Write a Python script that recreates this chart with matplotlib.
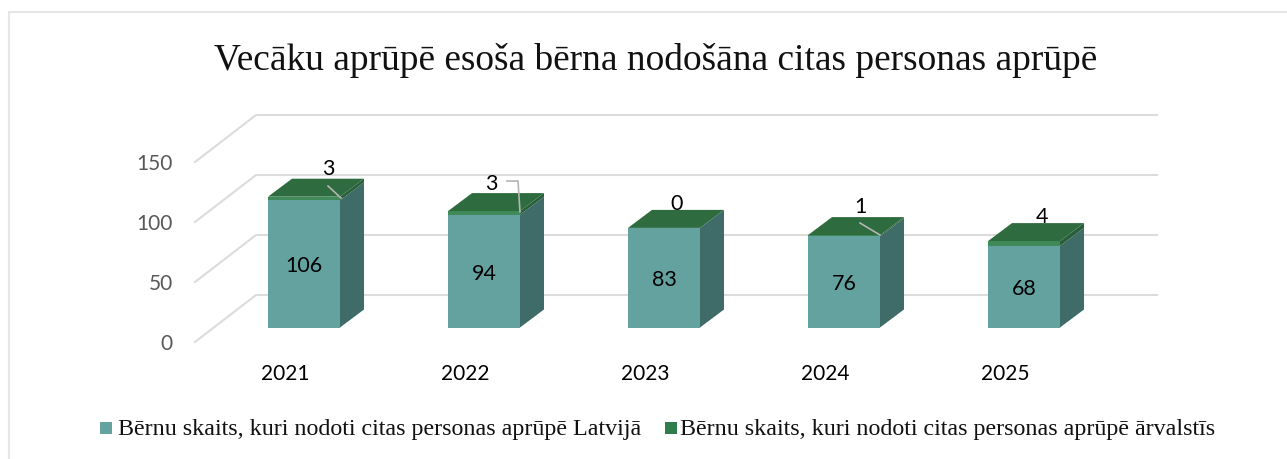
import matplotlib
matplotlib.use('Agg')
import matplotlib.pyplot as plt
from matplotlib.patches import Polygon, Rectangle

years = ['2021', '2022', '2023', '2024', '2025']
latvia = [106, 94, 83, 76, 68]
abroad = [3, 3, 0, 1, 4]
y_ticks = [0, 50, 100, 150]

title = 'Vecāku aprūpē esoša bērna nodošāna citas personas aprūpē'
legend_names = ['Bērnu skaits, kuri nodoti citas personas aprūpē Latvijā',
                'Bērnu skaits, kuri nodoti citas personas aprūpē ārvalstīs']

W, H = 1287, 459
X0, STEP = 304, 180     # pixel centre of first bar, pixels per category
Y0, SCALE = 327.5, 1.2  # pixel of value 0 at bar base, pixels per unit

C_FRONT = '#64A2A0'
C_SIDE = '#3F6B68'
C_TOP = '#2E6B3F'
C_GREEN = '#3F8A58'
C_GRID = '#DCDCDC'
C_TICK = '#595959'

fig = plt.figure(figsize=(W / 100, H / 100), dpi=100)
ax = fig.add_axes([0, 0, 1, 1])
ax.set_xlim(-X0 / STEP, (W - X0) / STEP)
ax.set_ylim((Y0 - H) / SCALE, Y0 / SCALE)
ax.axis('off')

dx = 1 / STEP    # one pixel in data units
dy = 1 / SCALE
bar_w = 72 * dx
dep_x, dep_y = 24 * dx, 18 * dy


def px(x, y):
    return (x - X0) * dx, (Y0 - y) * dy


# chart frame
ax.plot(*zip(px(9, 459), px(9, 12), px(1287, 12)), color='#E6E6E6', lw=1.5, zorder=1)

# 3d floor/wall grid
for v in y_ticks:
    y_front = 342 - v * SCALE
    ax.plot(*zip(px(195, y_front), px(256, y_front - 47), px(1157, y_front - 47)),
            color=C_GRID, lw=1.5, zorder=1)
    ax.text(*px(173, y_front + 2), str(v), ha='right', va='center', fontsize=15,
            color=C_TICK, family='Lato')

xs = list(range(len(years)))
ax.bar(xs, latvia, width=bar_w, color=C_FRONT, zorder=3)
ax.bar(xs, abroad, width=bar_w, bottom=latvia, color=C_GREEN, zorder=3)

for i, (a, b) in enumerate(zip(latvia, abroad)):
    right = i + bar_w / 2
    left = i - bar_w / 2
    total = a + b
    ax.add_patch(Polygon([(right, 0), (right + dep_x, dep_y), (right + dep_x, a + dep_y), (right, a)],
                         color=C_SIDE, lw=0, zorder=3))
    ax.add_patch(Polygon([(right, a), (right + dep_x, a + dep_y), (right + dep_x, total + dep_y), (right, total)],
                         color='#285F38', lw=0, zorder=3))
    ax.add_patch(Polygon([(left, total), (right, total), (right + dep_x, total + dep_y), (left + dep_x, total + dep_y)],
                         color=C_TOP, lw=0, zorder=3))
    ax.text(i, a / 2 - 2, str(a), ha='center', va='center', fontsize=15.5,
            color='black', family='Lato', zorder=5)
    ax.text(*px(285 + 180 * i, 374), years[i], ha='center', va='center', fontsize=15,
            color='black', family='Lato')

# labels of the abroad series, placed by hand as in the source
label_pos = [(328, 169), (491, 184), (677, 204), (860, 207), (1042, 217)]
leaders = [[(328, 186), (341, 198)], [(507, 181), (518, 181), (520, 212)], None,
           [(860, 223), (880, 235)], None]
for s, pos, line in zip(abroad, label_pos, leaders):
    ax.text(*px(*pos), str(s), ha='center', va='center', fontsize=15.5, color='black',
            family='Lato', zorder=6)
    if line:
        ax.plot(*zip(*[px(*p) for p in line]), color='#B5B5B5', lw=1.2, zorder=5)

ax.text(*px(656, 61), title, ha='center', va='center', fontsize=26.95,
        family='Liberation Serif', color='#111111')

# legend
for lx, tx, col, name in [(100, 118, C_FRONT, legend_names[0]), (665, 680, '#2F7D4C', legend_names[1])]:
    x1, y1 = px(lx, 434)
    ax.add_patch(Rectangle((x1, y1), 12 * dx, 12 * dy, color=col, lw=0))
    ax.text(*px(tx, 430), name, ha='left', va='center', fontsize=17.3,
            family='Liberation Serif', color='#111111')

fig.savefig('out.png', dpi=100)
